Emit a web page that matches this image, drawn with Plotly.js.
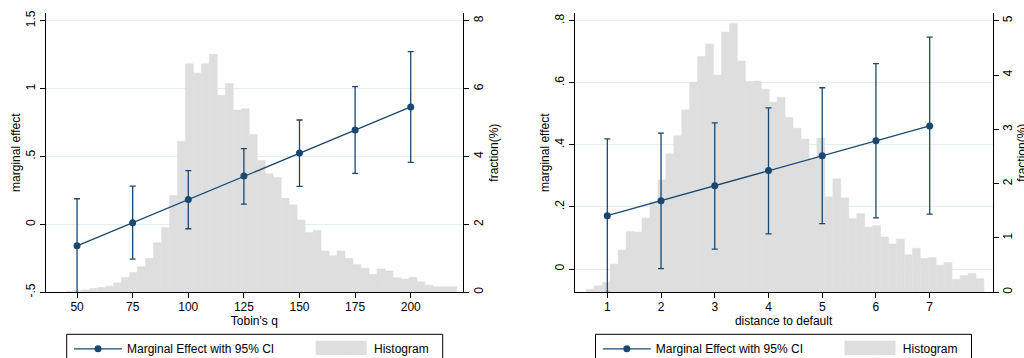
<!DOCTYPE html>
<html><head><meta charset="utf-8">
<script src="https://cdn.plot.ly/plotly-3.0.1.min.js"></script>
<style>html,body{margin:0;padding:0;background:#fff;width:1024px;height:358px;overflow:hidden}</style>
</head><body><div id="chart" style="width:1040px;height:380px"></div>
<script>
// ---- Panel 1: Tobin's q ----
const tobinQ   = [50, 75, 100, 125, 150, 175, 200];
const tobinME  = [-0.158, 0.012, 0.184, 0.356, 0.526, 0.695, 0.865];
const tobinLo  = [-0.505, -0.255, -0.032, 0.150, 0.280, 0.376, 0.457];
const tobinHi  = [0.189, 0.282, 0.396, 0.558, 0.769, 1.015, 1.273];
const tobinHistFirstCenter = 46.65;
const tobinHistBinWidth = 3.589;
const tobinHist = [0.03, 0.05, 0.07, 0.11, 0.14, 0.18, 0.28, 0.44, 0.58, 0.75,
  1.00, 1.46, 1.91, 2.85, 4.45, 6.73, 6.46, 6.73, 7.01, 5.80,
  6.15, 5.37, 5.41, 4.65, 3.88, 3.49, 3.38, 2.77, 2.58, 2.13,
  1.76, 1.83, 1.22, 1.08, 1.22, 1.00, 0.82, 0.71, 0.53, 0.69,
  0.63, 0.43, 0.39, 0.44, 0.31, 0.21, 0.16, 0.16, 0.16];

// ---- Panel 2: distance to default ----
const ddX  = [1, 2, 3, 4, 5, 6, 7];
const ddME = [0.172, 0.220, 0.268, 0.317, 0.365, 0.413, 0.461];
const ddLo = [-0.075, 0.001, 0.064, 0.113, 0.146, 0.165, 0.177];
const ddHi = [0.419, 0.438, 0.471, 0.519, 0.584, 0.662, 0.747];
const ddHistFirstCenter = 0.683;
const ddHistBinWidth = 0.148;
const ddHist = [0.06, 0.12, 0.18, 0.52, 0.78, 1.12, 1.11, 1.37, 1.67, 2.07,
  2.55, 2.88, 3.36, 3.87, 4.34, 4.57, 4.00, 4.79, 4.95, 4.26,
  3.88, 3.89, 3.74, 3.50, 3.59, 3.22, 3.02, 2.82, 2.47, 2.84,
  1.76, 2.09, 1.74, 1.36, 1.45, 1.20, 1.23, 1.02, 0.89, 0.98,
  0.69, 0.81, 0.62, 0.64, 0.50, 0.55, 0.24, 0.31, 0.35, 0.25];

const meLabel = 'Marginal Effect with 95% CI';
const histLabel = 'Histogram';
const navy = '#1a476f';
const gray = '#dedede';
const font = {family: 'Liberation Sans, Arial, sans-serif', size: 12, color: '#000'};

// layout geometry in pixels; the figure is drawn slightly larger and cropped to 1024x358
const W = 1040, H = 380;
const px = v => v / W;
const py = v => 1 - v / H;

function meTrace(x, me, lo, hi, xa, ya, leg) {
  return {
    type: 'scatter', mode: 'lines+markers', x: x, y: me, xaxis: xa, yaxis: ya,
    name: meLabel, legend: leg,
    line: {color: navy, width: 1.3},
    marker: {color: navy, size: 7, symbol: 'circle'},
    error_y: {type: 'data', symmetric: false,
      array: hi.map((h, i) => h - me[i]),
      arrayminus: lo.map((l, i) => me[i] - l),
      color: navy, thickness: 1.3, width: 3}
  };
}
function histTrace(y, c0, w, xa, ya, leg) {
  return {
    type: 'bar', x0: c0, dx: w, y: y, xaxis: xa, yaxis: ya,
    name: histLabel, legend: leg,
    marker: {color: gray, line: {color: gray, width: 0.5}}
  };
}

const data = [
  histTrace(tobinHist, tobinHistFirstCenter, tobinHistBinWidth, 'x', 'y', 'legend2'),
  meTrace(tobinQ, tobinME, tobinLo, tobinHi, 'x', 'y2', 'legend'),
  histTrace(ddHist, ddHistFirstCenter, ddHistBinWidth, 'x2', 'y3', 'legend4'),
  meTrace(ddX, ddME, ddLo, ddHi, 'x2', 'y4', 'legend3')
];

const yDom = [py(292.3), py(13)];
const axBase = {showline: true, linecolor: '#000', linewidth: 1, ticks: 'outside',
  ticklen: 5, tickcolor: '#000', tickwidth: 1, zeroline: false, tickfont: font};
const gridC = '#e4edf0';

function legendAt(xpx) {
  return {x: px(xpx), y: py(334.3), xanchor: 'left', yanchor: 'top', orientation: 'h',
    borderwidth: 0, bgcolor: 'rgba(0,0,0,0)', font: font, itemwidth: 48};
}

const shapes = [];
[0, 528.8].forEach(off => {
  shapes.push({type: 'rect', xref: 'paper', yref: 'paper', layer: 'above',
    x0: px(66.7 + off), x1: px(442.7 + off), y0: py(372), y1: py(334.3),
    line: {color: '#000', width: 1}, fillcolor: 'rgba(0,0,0,0)'});
  shapes.push({type: 'rect', xref: 'paper', yref: 'paper', layer: 'above',
    x0: px(315.7 + off), x1: px(366.7 + off), y0: py(355), y1: py(340.7),
    line: {width: 0}, fillcolor: gray});
});

const layout = {
  width: W, height: H,
  margin: {l: 0, r: 0, t: 0, b: 0},
  paper_bgcolor: '#fff', plot_bgcolor: '#fff',
  font: font, bargap: 0, showlegend: true, shapes: shapes,
  xaxis: Object.assign({}, axBase, {domain: [px(45.7), px(463)], anchor: 'y', range: [35.9, 223.5],
    tickvals: tobinQ, showgrid: false, ticklabelstandoff: -2,
    title: {text: "Tobin's q", font: font, standoff: 2}}),
  yaxis: Object.assign({}, axBase, {domain: yDom, anchor: 'x', side: 'right', range: [0, 8.227],
    tickvals: [0, 2, 4, 6, 8], tickangle: -90, showgrid: false,
    title: {text: 'fraction(%)', font: font, standoff: 4}}),
  yaxis2: Object.assign({}, axBase, {overlaying: 'y', anchor: 'x', side: 'left', range: [-0.5, 1.557],
    tickvals: [-0.5, 0, 0.5, 1, 1.5], ticktext: ['-.5', '0', '.5', '1', '1.5'], tickangle: -90,
    showgrid: true, gridcolor: gridC, gridwidth: 1,
    title: {text: 'marginal effect', font: font, standoff: 0}}),
  xaxis2: Object.assign({}, axBase, {domain: [px(574.7), px(992.5)], anchor: 'y3', range: [0.393, 8.169],
    tickvals: ddX, showgrid: false, ticklabelstandoff: -2,
    title: {text: 'distance to default', font: font, standoff: 2}}),
  yaxis3: Object.assign({}, axBase, {domain: yDom, anchor: 'x2', side: 'right', range: [0, 5.142],
    tickvals: [0, 1, 2, 3, 4, 5], tickangle: -90, showgrid: false, ticklabelstandoff: -1,
    title: {text: 'fraction(%)', font: font, standoff: 0}}),
  yaxis4: Object.assign({}, axBase, {overlaying: 'y3', anchor: 'x2', side: 'left', range: [-0.075, 0.8248],
    tickvals: [0, 0.2, 0.4, 0.6, 0.8], ticktext: ['0', '.2', '.4', '.6', '.8'], tickangle: -90,
    showgrid: true, gridcolor: gridC, gridwidth: 1,
    title: {text: 'marginal effect', font: font, standoff: 0}}),
  legend: legendAt(69),
  legend2: legendAt(316),
  legend3: legendAt(69 + 528.8),
  legend4: legendAt(316 + 528.8)
};

Plotly.newPlot('chart', data, layout, {displayModeBar: false, staticPlot: true});
</script></body></html>
